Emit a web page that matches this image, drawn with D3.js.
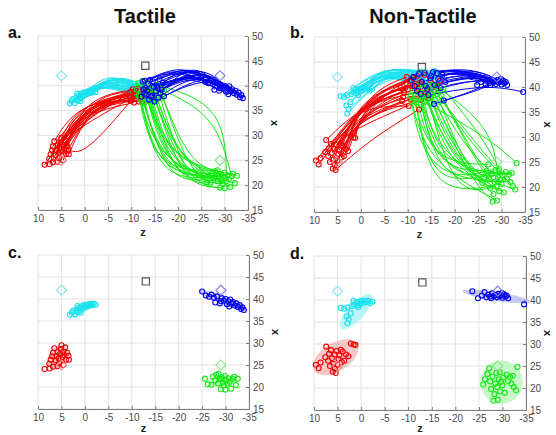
<!DOCTYPE html>
<html>
<head>
<meta charset="utf-8">
<script src="https://cdn.jsdelivr.net/npm/d3@7"></script>
<style>
    body { margin: 0; background: #fff; }
    text { font-family: "Liberation Sans", Arial, sans-serif; }
</style>
</head>
<body>
<svg id="fig" width="556" height="435"></svg>
<script>

/**
 * Axis ticks (z runs reversed, x on the right side)
 */
const zTicks = [10, 5, 0, -5, -10, -15, -20, -25, -30, -35]
const xTicks = [15, 20, 25, 30, 35, 40, 45, 50]

/**
 * Targets (diamonds) and the home position (square)
 */
const targetNames = ['cyan', 'blue', 'green', 'red']
const targetZ = [5, -29, -29, 5]
const targetX = [42, 42, 25, 25]
const homeZ = -13
const homeX = 44

/**
 * Tactile: end points [z, x] per target, plus start and bend point of each reach
 */
const cyanEndsT = [[3.2,36.4],[2.8,36.9],[2.5,37.3],[2.1,36.5],[1.8,37.6],[1.5,37.0],[1.3,38.0],[1.0,37.4],[0.8,38.3],[0.5,37.8],[0.3,38.6],[0.0,38.1],[-0.2,38.7],[-0.4,38.3],[-0.7,38.8],[-1.0,38.5],[-1.2,38.9],[-1.5,38.6],[-1.9,38.9],[-2.3,38.7],[1.6,38.4],[0.9,36.9]]
const cyanStartT = [[-10.2,39.6],[-11.0,38.4],[-9.8,40.2],[-12.1,39.0],[-10.6,38.9],[-11.5,40.5],[-9.5,39.2],[-10.9,40.0],[-12.4,38.6],[-11.3,39.4],[-10.0,38.2],[-11.8,40.1],[-9.7,40.6],[-10.4,39.8],[-12.0,39.7],[-11.1,38.0],[-10.7,40.4],[-9.9,38.7],[-11.6,39.2],[-12.3,40.3],[-10.3,39.1],[-11.4,38.6]]
const cyanBendT = [[-5,41.5],[-4,40.5],[-6,42.2],[-5.5,41],[-4.5,40.8],[-6.5,42.5],[-4,41.2],[-5,42],[-3.5,40.2],[-5.5,41.6],[-4.2,40],[-6,42],[-4.8,42.4],[-5.2,41.8],[-6.2,41.4],[-3.8,40.4],[-5.8,42.3],[-4.4,40.6],[-5,41],[-6.4,42.1],[-4.6,41.3],[-3.9,40.7]]

const redEndsT = [[8.6,24.1],[7.5,24.2],[6.8,24.6],[7.6,25.3],[7.3,26.2],[7.0,27.0],[6.8,27.8],[6.2,26.0],[6.0,27.0],[5.8,28.0],[5.6,26.5],[5.3,27.5],[5.1,28.6],[5.0,29.5],[4.8,26.8],[4.6,28.0],[4.4,27.2],[4.2,29.0],[4.0,26.2],[3.8,27.8],[3.5,27.1],[3.4,26.2],[4.6,25.0],[5.5,25.4],[6.5,28.8],[5.8,24.7]]
const redStartT = [[-10.5,38.2],[-12.0,37.5],[-9.8,37.0],[-11.2,39.0],[-13.0,38.0],[-10.0,38.8],[-11.6,36.8],[-12.6,39.2],[-9.5,38.0],[-10.8,37.4],[-13.4,37.2],[-11.9,38.6],[-10.3,39.3],[-12.3,36.9],[-9.9,37.8],[-11.0,38.0],[-13.1,38.9],[-10.6,36.6],[-12.8,37.7],[-11.4,39.4],[-10.1,37.2],[-12.2,38.3],[-9.6,38.6],[-11.7,37.9],[-13.6,38.4],[-10.9,39.0]]
const redBendT = [[-1,36.5],[0,36],[-2,36.8],[1,35.5],[-1.5,37.5],[1.5,32],[-0.5,37],[1.5,35],[-2.5,37.6],[0,35.2],[-1,36],[1,36.8],[-2,35.5],[0.5,37.2],[-1.5,34.8],[2.5,31],[-0.5,36.4],[1,34.2],[-2,37],[0,37.6],[0,26],[-1,35.6],[0.5,36.2],[-1.5,36.2],[1.5,36.5],[-0.8,37.8]]

const greenEndsT = [[-25.6,21.9],[-26.2,20.6],[-27.0,20.5],[-27.3,22.4],[-27.8,21.5],[-28.0,22.8],[-28.4,20.8],[-28.7,21.9],[-29.0,19.5],[-29.2,22.2],[-29.4,21.0],[-29.6,20.3],[-29.9,22.5],[-30.1,21.5],[-30.4,20.8],[-30.6,22.0],[-30.9,21.2],[-31.2,19.6],[-31.5,21.8],[-31.8,22.3],[-32.2,20.4],[-32.6,21.9],[-28.5,23.0],[-30.0,19.4],[-29.0,21.7]]
const greenStartT = [[-12.0,38.5],[-13.5,37.0],[-11.5,40.5],[-14.8,38.2],[-12.8,36.5],[-16.0,39.5],[-13.0,39.8],[-11.8,37.4],[-15.2,37.2],[-12.4,41.0],[-14.0,39.0],[-16.6,38.0],[-13.2,38.0],[-11.2,39.2],[-15.6,40.2],[-12.6,37.8],[-14.4,36.8],[-13.8,40.6],[-17.0,39.0],[-12.2,36.9],[-15.0,38.8],[-13.6,38.6],[-11.6,38.0],[-16.2,37.5],[-14.6,40.0]]
const greenBendT = [[-17,23],[-19,22],[-16,25],[-21,22],[-18,20],[-22,25],[-18,24],[-16,22],[-21,20],[-17,26],[-19,23],[-23,21],[-18,22],[-16,24],[-30,36],[-17,21],[-20,19],[-19,26],[-28,34],[-16,20],[-21,23],[-18,25],[-15,23],[-22,20],[-20,25]]

const blueEndsT = [[-25.0,41.7],[-25.8,40.8],[-26.5,40.5],[-27.0,41.0],[-27.5,40.3],[-28.2,40.6],[-28.8,39.0],[-29.2,40.2],[-29.6,39.6],[-30.0,40.0],[-30.3,38.8],[-30.6,39.5],[-31.0,39.9],[-31.3,38.9],[-31.6,39.3],[-32.0,38.5],[-32.3,39.0],[-32.6,38.2],[-33.0,38.6],[-33.3,37.7],[-33.6,38.1],[-33.9,37.5],[-29.0,39.5],[-30.8,38.3],[-27.8,39.2]]
const blueStartT = [[-13.0,39.5],[-14.5,38.0],[-12.5,40.8],[-15.5,40.0],[-13.8,37.2],[-16.2,38.6],[-14.0,41.2],[-12.8,38.4],[-15.0,36.8],[-16.8,40.6],[-13.4,39.0],[-14.8,39.8],[-12.2,37.8],[-15.8,37.6],[-13.6,40.4],[-16.5,39.2],[-14.2,37.8],[-12.9,41.0],[-15.3,38.9],[-17.0,37.9],[-13.2,38.2],[-14.6,40.9],[-16.0,41.3],[-12.6,39.3],[-15.6,39.5]]
const blueBendT = [[-22,43.5],[-24,44],[-21,44.5],[-25,43],[-22,43],[-23,44.8],[-20,44],[-24,43.5],[-26,42.5],[-22,44.2],[-23,43],[-25,44.5],[-21,42.8],[-24,42.8],[-22,44.6],[-26,43.8],[-23,42.6],[-20,43.6],[-25,43.2],[-27,42.2],[-21,43.2],[-24,44.2],[-23,44.4],[-22,42.4],[-26,43.4]]

/**
 * Non-tactile: same layout of arrays
 */
const cyanEndsN = [[4.3,38.2],[3.6,38.0],[2.9,38.3],[3.1,36.3],[2.6,35.6],[2.9,34.7],[2.2,37.0],[2.0,38.6],[1.5,38.9],[1.1,39.4],[0.8,38.8],[0.5,39.6],[0.2,39.1],[-0.1,39.8],[-0.4,39.3],[-0.8,39.9],[-1.1,39.5],[-1.5,39.8],[-1.9,39.3],[-2.4,39.6],[1.6,39.8],[0.6,38.4]]
const cyanStartN = [[-13.0,42.0],[-15.5,42.8],[-12.0,41.2],[-14.2,40.5],[-16.4,42.2],[-11.5,42.6],[-13.8,43.0],[-15.0,41.0],[-12.6,40.2],[-16.8,41.6],[-14.6,42.4],[-11.8,41.8],[-13.4,40.8],[-15.8,43.2],[-12.2,42.9],[-14.0,41.5],[-16.0,40.6],[-13.2,42.4],[-11.4,40.8],[-15.2,41.8],[-12.8,43.1],[-14.8,40.3]]
const cyanBendN = [[-5,44],[-6,43.5],[-4,43.2],[-7,44.2],[-5.5,42.5],[-6.5,43.8],[-4.5,44.4],[-6,42.8],[-3.5,43],[-7.5,43.6],[-5,44.6],[-4,42.6],[-6.8,44.2],[-5.2,43.4],[-3.8,44],[-6.2,43.2],[-4.8,42.4],[-5.6,44.2],[-3,42.8],[-7,43],[-4.2,43.8],[-5.8,42.9]]

const redEndsN = [[9.6,25.3],[9.0,24.5],[8.6,25.8],[7.4,29.4],[7.6,27.0],[7.0,26.2],[6.8,27.8],[6.4,28.6],[6.2,26.8],[6.0,23.7],[5.9,25.5],[5.6,27.6],[5.4,23.4],[5.2,28.4],[5.0,25.3],[4.8,26.6],[4.6,27.4],[4.3,28.7],[3.9,28.3],[3.6,26.2],[3.2,27.6],[2.7,27.2],[2.2,30.1],[1.6,29.9],[1.2,29.8],[6.6,25.0],[4.1,25.9],[5.6,24.4]]
const redStartN = [[-10.0,39.5],[-12.5,40.8],[-9.0,38.0],[-14.0,39.2],[-11.2,41.8],[-8.5,39.8],[-13.2,38.2],[-15.5,40.5],[-10.6,37.6],[-12.0,42.2],[-9.6,40.8],[-14.8,41.4],[-12.4,35.5],[-13.6,42.4],[-8.8,37.2],[-16.2,39.8],[-10.4,41.2],[-12.8,37.4],[-9.2,39.0],[-15.0,38.6],[-11.0,40.2],[-13.0,41.0],[-10.2,36.2],[-16.8,41.2],[-12.2,39.6],[-14.4,37.8],[-9.8,42.0],[-11.8,40.6]]
const redBendN = [[0,36],[-2,38],[1,34],[-1,37],[-3,39],[2,35],[-1,35],[-2,39],[1,33],[-3,38],[0,37.5],[-2,38.5],[-2,29.5],[-2.5,39.5],[2,32.5],[-3,37.5],[0,38],[3,31],[1,36],[-1,36.5],[0.5,37],[-1.5,38.2],[1,36],[-3,39],[-0.5,36.8],[2.5,33.5],[-1,38.8],[0,35]]

const greenEndsN = [[-27.2,24.5],[-33.2,24.8],[-25.9,20.8],[-26.3,22.0],[-26.8,23.2],[-27.4,21.5],[-27.6,19.8],[-27.9,22.6],[-28.1,17.1],[-28.3,18.6],[-28.5,21.0],[-28.7,23.4],[-28.9,20.2],[-29.0,17.3],[-29.2,22.0],[-29.5,19.2],[-29.7,21.4],[-30.0,20.6],[-30.2,22.4],[-30.5,18.9],[-30.9,23.0],[-31.2,21.6],[-31.6,22.5],[-31.9,21.0],[-32.4,20.2],[-32.9,19.5],[-32.2,22.8],[-29.4,23.6]]
const greenStartN = [[-12.0,38.0],[-13.5,37.0],[-11.0,39.0],[-15.0,38.6],[-12.8,36.6],[-16.5,39.4],[-14.0,40.0],[-11.6,37.4],[-15.8,37.4],[-13.0,39.6],[-17.2,38.2],[-12.4,38.8],[-14.6,36.8],[-10.6,38.2],[-16.0,40.2],[-13.8,38.4],[-15.4,39.2],[-11.8,36.9],[-17.6,39.6],[-12.2,40.2],[-14.2,37.6],[-16.8,37.0],[-13.2,38.0],[-10.8,37.0],[-15.2,40.4],[-14.8,38.0],[-12.6,37.8],[-16.2,38.6]]
const greenBendN = [[-15,25],[-27,30],[-14,27],[-22,25],[-17,21],[-24,26],[-19,27],[-15,20],[-23,22],[-18,28],[-25,25],[-16,23],[-20,18],[-14,25],[-28,32],[-19,24],[-22,28],[-15,18],[-26,30],[-16,27],[-21,22],[-24,20],[-17,24],[-14,22],[-23,29],[-22,23],[-18,21],[-26,27]]

const blueEndsN = [[-23.6,42.0],[-24.8,40.4],[-25.6,41.0],[-26.2,41.8],[-26.6,40.6],[-27.0,41.2],[-27.4,40.8],[-27.8,41.5],[-28.2,40.9],[-28.5,41.2],[-28.8,40.6],[-29.1,41.4],[-29.4,40.9],[-29.7,41.1],[-30.0,40.5],[-30.3,41.3],[-30.6,40.8],[-30.9,41.0],[-31.2,40.4],[-29.9,41.6],[-27.6,40.4],[-34.6,39.0]]
const blueStartN = [[-13.0,41.0],[-15.0,42.2],[-11.5,40.2],[-16.5,41.6],[-12.4,42.6],[-14.2,39.6],[-17.4,42.4],[-10.8,41.4],[-15.8,40.4],[-13.6,42.8],[-18.0,41.0],[-12.0,39.2],[-14.8,41.8],[-16.2,42.8],[-11.2,42.0],[-13.8,40.2],[-17.0,39.8],[-12.8,38.6],[-15.4,43.0],[-15.6,36.6],[-17.7,37.3],[-14.4,38.4]]
const blueBendN = [[-22,43.5],[-24,43],[-21,43.8],[-25,42.8],[-22,44],[-23,42.5],[-26,43],[-21,43.2],[-24,42.2],[-22,43.6],[-26,42.4],[-20,43],[-23,43.8],[-25,43.6],[-21,44.2],[-24,42.8],[-26,41.8],[-22,41.5],[-24,44],[-22,38.5],[-24,39],[-27,40.5]]

/**
 * Spread ellipses of the end points: [centre z, centre x, radius z, radius x, tilt deg]
 */
const ellipseT = { red: [5.8, 26.8, 2.8, 2.0, -55], cyan: [0.5, 37.8, 3.0, 0.8, -20], blue: [-29.5, 39.7, 5.5, 0.9, 22], green: [-29.5, 21.3, 3.0, 1.3, 0] }
const ellipseN = { red: [5.4, 27.0, 5.4, 3.2, -32], cyan: [1.0, 37.4, 4.8, 1.9, -48], blue: [-28.8, 40.8, 7.3, 1.0, 9], green: [-29.8, 21.3, 4.5, 4.9, -10] }

const colors = { cyan: '#17e2ee', red: '#f20000', green: '#12ea12', blue: '#0000f2' }
const lightColors = { cyan: '#8ae6ee', red: '#f39090', green: '#8ee68e', blue: '#8282ee' }
const fillColors = { cyan: '#a6f2f6', red: '#f6b4b4', green: '#b4f6b4', blue: '#b4b4f6' }
const drawOrder = ['cyan', 'red', 'green', 'blue']

const tactile = {
    cyan: { starts: cyanStartT, bends: cyanBendT, ends: cyanEndsT },
    red: { starts: redStartT, bends: redBendT, ends: redEndsT },
    green: { starts: greenStartT, bends: greenBendT, ends: greenEndsT },
    blue: { starts: blueStartT, bends: blueBendT, ends: blueEndsT },
}
const nonTactile = {
    cyan: { starts: cyanStartN, bends: cyanBendN, ends: cyanEndsN },
    red: { starts: redStartN, bends: redBendN, ends: redEndsN },
    green: { starts: greenStartN, bends: greenBendN, ends: greenEndsN },
    blue: { starts: blueStartN, bends: blueBendN, ends: blueEndsN },
}

const panels = [
    { tag: 'a.', tagPos: [8, 38], box: { l: 38, r: 248, t: 36, b: 210 }, labelGap: 27, sets: tactile, traj: true },
    { tag: 'b.', tagPos: [290, 38], box: { l: 314, r: 525, t: 37, b: 212 }, labelGap: 23, sets: nonTactile, traj: true },
    { tag: 'c.', tagPos: [8, 258], box: { l: 38, r: 249, t: 255, b: 409 }, labelGap: 27, sets: tactile, ellipses: ellipseT },
    { tag: 'd.', tagPos: [290, 259], box: { l: 314, r: 526, t: 256, b: 410 }, labelGap: 22, sets: nonTactile, ellipses: ellipseN },
]

const svg = d3.select('#fig')

svg.append('text').attr('x', 145).attr('y', 23).attr('text-anchor', 'middle')
    .attr('font-size', 20).attr('font-weight', 'bold').attr('fill', '#111').text('Tactile')
svg.append('text').attr('x', 423).attr('y', 23).attr('text-anchor', 'middle')
    .attr('font-size', 20).attr('font-weight', 'bold').attr('fill', '#111').text('Non-Tactile')

function drawPanel(p) {
    const box = p.box
    const z = d3.scaleLinear().domain([10, -35]).range([box.l, box.r])
    const x = d3.scaleLinear().domain([15, 50]).range([box.b, box.t])
    const g = svg.append('g')

    /**
     * Grid
     */
    g.append('g').selectAll('line').data(zTicks).join('line')
        .attr('x1', d => z(d)).attr('x2', d => z(d))
        .attr('y1', box.t).attr('y2', box.b)
        .attr('stroke', '#e2e2e2')
    g.append('g').selectAll('line').data(xTicks).join('line')
        .attr('x1', box.l).attr('x2', box.r)
        .attr('y1', d => x(d)).attr('y2', d => x(d))
        .attr('stroke', '#e2e2e2')

    /**
     * Axes: z along the bottom, x on the right
     */
    const axB = g.append('g')
        .attr('transform', `translate(0,${box.b})`)
        .call(d3.axisBottom(z).tickValues(zTicks).tickFormat(d => String(d))
            .tickSizeInner(-3).tickSizeOuter(0).tickPadding(5))
    const axR = g.append('g')
        .attr('transform', `translate(${box.r},0)`)
        .call(d3.axisRight(x).tickValues(xTicks).tickFormat(d => String(d))
            .tickSizeInner(-3).tickSizeOuter(0).tickPadding(4))
    ;[axB, axR].forEach(ax => {
        ax.attr('font-family', null).attr('font-size', 10)
        ax.select('.domain').attr('stroke', '#7c7c7c')
        ax.selectAll('.tick line').attr('stroke', '#7c7c7c')
        ax.selectAll('.tick text').attr('fill', '#4a4a4a')
    })

    g.append('text').attr('x', (box.l + box.r) / 2).attr('y', Math.min(box.b + 26, 432))
        .attr('text-anchor', 'middle').attr('font-size', 11).attr('font-weight', 'bold')
        .attr('fill', '#222').text('z')
    g.append('text')
        .attr('transform', `translate(${box.r + p.labelGap},${(box.t + box.b) / 2}) rotate(90)`)
        .attr('text-anchor', 'middle').attr('dy', '0.35em')
        .attr('font-size', 11).attr('font-weight', 'bold').attr('fill', '#222').text('x')

    svg.append('text').attr('x', p.tagPos[0]).attr('y', p.tagPos[1])
        .attr('font-size', 16).attr('font-weight', 'bold').attr('fill', '#111').text(p.tag)

    /**
     * Spread ellipses (bottom panels)
     */
    if (p.ellipses) {
        const uz = Math.abs(z(1) - z(0))
        const ux = Math.abs(x(1) - x(0))
        g.append('g').selectAll('ellipse').data(drawOrder).join('ellipse')
            .attr('transform', c => `translate(${z(p.ellipses[c][0])},${x(p.ellipses[c][1])}) rotate(${p.ellipses[c][4]})`)
            .attr('rx', c => p.ellipses[c][2] * uz)
            .attr('ry', c => p.ellipses[c][3] * ux)
            .attr('fill', c => fillColors[c])
            .attr('fill-opacity', 0.75)
    }

    /**
     * Reach trajectories (top panels)
     */
    const line = d3.line()
        .x(d => z(d[0]))
        .y(d => x(d[1]))
        .curve(d3.curveBasis)

    if (p.traj) {
        drawOrder.forEach(c => {
            const s = p.sets[c]
            g.append('g').selectAll('path').data(d3.zip(s.starts, s.bends, s.ends)).join('path')
                .attr('d', line)
                .attr('fill', 'none')
                .attr('stroke', colors[c])
                .attr('stroke-width', 1)
        })
    }

    /**
     * Circle markers: end points, and start points on the top panels
     */
    drawOrder.forEach(c => {
        const s = p.sets[c]
        const pts = p.traj ? s.ends.concat(s.starts) : s.ends
        g.append('g').selectAll('circle').data(pts).join('circle')
            .attr('cx', d => z(d[0])).attr('cy', d => x(d[1]))
            .attr('r', 2.5)
            .attr('fill', 'none')
            .attr('stroke', colors[c])
            .attr('stroke-width', 1.1)
    })

    /**
     * Targets and home square
     */
    g.append('g').selectAll('path').data(targetNames).join('path')
        .attr('d', d3.symbol(d3.symbolSquare, 50))
        .attr('transform', (c, i) => `translate(${z(targetZ[i])},${x(targetX[i])}) rotate(45)`)
        .attr('fill', 'none')
        .attr('stroke', c => lightColors[c])
        .attr('stroke-width', 1.2)
    g.append('path')
        .attr('d', d3.symbol(d3.symbolSquare, 52))
        .attr('transform', `translate(${z(homeZ)},${x(homeX)})`)
        .attr('fill', 'none')
        .attr('stroke', '#555')
        .attr('stroke-width', 1.2)
}

panels.forEach(drawPanel)

</script>
</body>
</html>
